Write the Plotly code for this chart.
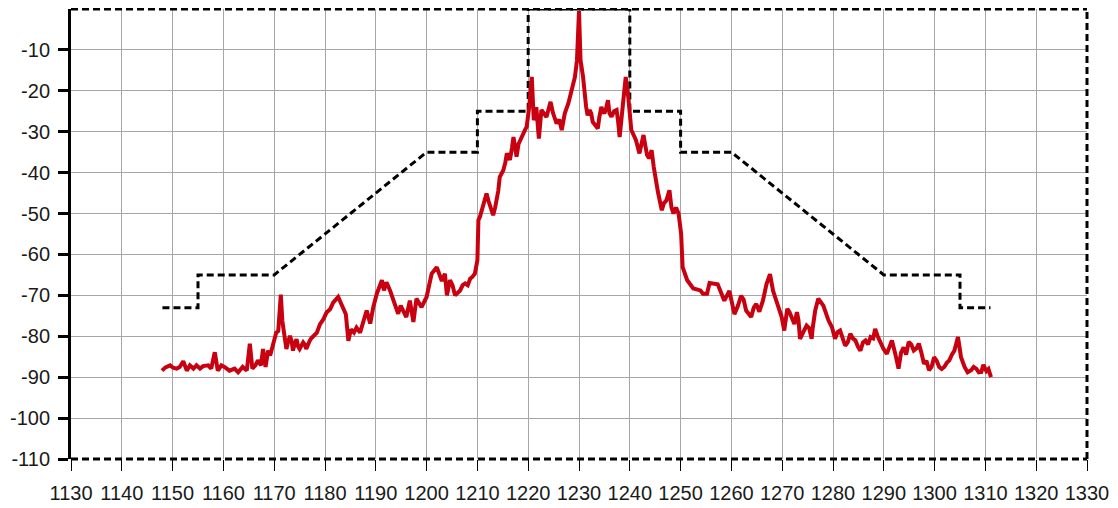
import plotly.graph_objects as go

# Spectrum mask (dashed black)
mask_freq = [1148, 1155, 1155, 1170, 1200, 1210, 1210, 1220, 1220, 1240, 1240, 1250, 1250, 1260, 1290, 1305, 1305, 1311]
mask_level = [-73, -73, -65, -65, -35, -35, -25, -25, 0, 0, -25, -25, -35, -35, -65, -65, -73, -73]

spec_freq = [
    1147.9, 1148.6, 1149.5, 1150.1, 1150.8, 1151.4, 1152.1, 1152.8, 1153.4, 1154.1,
    1154.7, 1155.4, 1156.0, 1157.0, 1157.6, 1158.3, 1158.9, 1159.6, 1160.2, 1161.2,
    1162.2, 1162.9, 1163.8, 1164.6, 1165.2, 1165.7, 1166.3, 1166.8, 1167.4, 1167.8,
    1168.3, 1168.8, 1169.2, 1169.7, 1170.4, 1170.8, 1171.3, 1171.6, 1172.0, 1172.4,
    1173.1, 1173.7, 1174.4, 1175.0, 1175.7, 1176.3, 1177.0, 1177.7, 1178.4, 1179.0,
    1179.7, 1180.3, 1181.0, 1181.6, 1182.6, 1183.1, 1183.6, 1184.1, 1184.6, 1185.1,
    1185.7, 1186.2, 1186.9, 1187.9, 1188.2, 1188.9, 1189.5, 1190.2, 1190.7, 1191.2,
    1191.6, 1192.1, 1192.8, 1193.3, 1193.8, 1194.4, 1194.9, 1195.4, 1196.0, 1196.7,
    1197.4, 1198.0, 1199.0, 1200.0, 1200.5, 1201.0, 1202.0, 1202.6, 1203.6, 1204.0,
    1204.6, 1205.6, 1206.6, 1207.6, 1208.6, 1209.5, 1210.0, 1210.2, 1210.5, 1211.2,
    1211.8, 1212.5, 1213.1, 1213.8, 1214.4, 1215.1, 1215.8, 1216.4, 1217.1, 1217.7,
    1218.4, 1219.0, 1219.7, 1220.2, 1220.7, 1221.1, 1221.6, 1222.1, 1222.6, 1223.6,
    1224.4, 1224.9, 1225.6, 1226.6, 1227.2, 1227.9, 1228.6, 1229.2, 1229.6, 1230.0,
    1230.3, 1230.8, 1231.4, 1232.1, 1232.7, 1233.7, 1234.4, 1235.0, 1235.7, 1236.4,
    1237.4, 1238.0, 1238.6, 1239.2, 1239.7, 1240.3, 1241.2, 1241.9, 1242.7, 1243.4,
    1244.3, 1245.0, 1245.6, 1246.3, 1247.2, 1247.8, 1248.6, 1249.6, 1250.1, 1250.4,
    1251.3, 1252.5, 1253.9, 1254.4, 1255.2, 1255.7, 1256.5, 1257.3, 1257.8, 1258.6,
    1259.6, 1260.6, 1261.9, 1262.9, 1263.9, 1264.9, 1266.2, 1266.9, 1267.6, 1268.2,
    1268.9, 1269.9, 1270.4, 1271.0, 1271.9, 1272.9, 1273.5, 1274.8, 1275.8, 1276.5,
    1277.1, 1278.1, 1279.1, 1279.8, 1280.4, 1281.4, 1282.4, 1283.4, 1284.4, 1285.4,
    1286.4, 1287.4, 1288.3, 1289.3, 1290.6, 1291.6, 1292.9, 1293.9, 1294.9, 1295.9,
    1296.9, 1297.9, 1298.9, 1299.9, 1300.9, 1301.9, 1302.9, 1303.9, 1304.6, 1305.2,
    1305.9, 1307.2, 1308.2, 1309.2, 1309.6, 1310.2, 1311.1,
]
spec_level = [
    -88.4, -87.6, -87.1, -87.7, -87.9, -87.5, -86.1, -88.4, -87.1, -87.9,
    -87.1, -87.9, -87.3, -87.1, -87.9, -83.9, -88.4, -87.1, -87.5, -88.4,
    -87.9, -88.8, -87.5, -88.4, -81.8, -87.9, -87.1, -85.9, -87.1, -83.1,
    -87.5, -83.5, -84.7, -82.7, -79.1, -78.7, -69.8, -76.2, -80.3, -83.1,
    -79.9, -83.5, -80.7, -83.1, -81.5, -83.1, -81.1, -79.9, -79.1, -77.1,
    -75.8, -74.2, -73.4, -71.8, -70.4, -71.8, -73.0, -74.6, -81.1, -78.3,
    -79.1, -77.9, -79.1, -75.4, -73.7, -76.9, -72.9, -69.6, -68.0, -66.3,
    -68.8, -66.8, -68.8, -70.4, -72.1, -74.5, -72.5, -73.7, -75.3, -71.3,
    -76.5, -70.8, -72.9, -70.4, -68.0, -64.7, -63.1, -65.5, -64.7, -70.0,
    -66.3, -70.0, -68.8, -67.1, -65.9, -64.7, -61.4, -51.6, -50.8, -47.6,
    -45.1, -48.4, -50.4, -46.7, -41.1, -39.4, -35.3, -36.9, -31.3, -36.1,
    -32.1, -30.4, -28.8, -23.9, -16.6, -27.2, -24.0, -31.7, -24.7, -26.4,
    -22.7, -25.5, -28.0, -29.6, -25.5, -23.1, -19.0, -16.6, -12.5, -0.5,
    -12.5, -16.6, -23.9, -24.7, -27.6, -29.2, -23.9, -25.5, -22.3, -26.3,
    -24.7, -31.3, -23.9, -16.6, -21.5, -29.6, -32.0, -35.3, -30.8, -35.7,
    -34.5, -40.2, -45.1, -49.2, -46.8, -44.3, -50.0, -50.0, -54.9, -63.1,
    -66.3, -68.3, -68.8, -69.6, -69.6, -67.0, -67.2, -67.3, -68.8, -71.3,
    -68.9, -74.6, -70.1, -73.7, -75.3, -72.1, -71.3, -67.3, -64.8, -68.9,
    -71.3, -75.3, -78.6, -73.3, -75.3, -74.1, -80.6, -77.4, -80.6, -73.7,
    -70.8, -72.5, -76.1, -77.8, -80.6, -78.6, -82.3, -79.4, -81.0, -83.5,
    -81.0, -80.2, -78.2, -81.4, -84.3, -81.0, -87.9, -82.7, -81.4, -83.5,
    -81.8, -86.7, -88.3, -85.1, -87.5, -87.5, -85.9, -83.5, -80.2, -85.1,
    -87.5, -88.3, -87.9, -88.7, -87.0, -88.5, -90.0,
]

# Extra fine-detail readings of the noisy trace
spec_freq_extra = [
    1172.7, 1173.4, 1174.0, 1174.7, 1176.0, 1176.6, 1177.3,
    1203.0, 1205.1, 1206.1, 1207.1, 1208.1, 1209.0,
    1212.2, 1212.8, 1213.5, 1214.1, 1214.8, 1215.5, 1216.1, 1216.8, 1217.4, 1218.1, 1218.7, 1219.4,
    1226.1, 1226.9, 1231.7, 1232.4, 1233.2, 1234.0, 1234.7, 1235.3, 1236.0, 1236.9, 1237.7,
    1241.5, 1242.3, 1243.0, 1243.8, 1244.7, 1245.3, 1246.0, 1246.7, 1248.2, 1249.1,
    1261.3, 1262.4, 1263.4, 1264.4, 1265.5,
    1269.4, 1270.7, 1271.4, 1272.4, 1273.2, 1274.2, 1275.3, 1276.0,
    1280.9, 1281.9, 1282.9, 1283.9, 1284.9, 1285.9, 1286.9, 1287.9, 1288.8, 1289.9,
    1291.1, 1292.3, 1293.4, 1294.4, 1295.4, 1296.4, 1297.4, 1298.4, 1299.4, 1300.4,
    1301.4, 1302.4, 1303.4,
    1306.5, 1307.7, 1308.7, 1310.6,
]
spec_level_extra = [
    -81.5, -81.0, -82.0, -82.5, -82.0, -82.0, -80.5,
    -66.5, -67.5, -69.5, -67.5, -67.5, -65.5,
    -47.0, -49.5, -48.5, -44.5, -40.0, -37.5, -36.0, -34.0, -33.5, -33.0, -31.0, -29.5,
    -27.0, -27.5, -26.0, -25.5, -28.5, -26.5, -25.0, -24.5, -25.5, -25.0, -27.5,
    -33.5, -33.0, -33.0, -36.5, -38.5, -43.0, -47.0, -47.5, -48.5, -48.5,
    -72.5, -71.0, -74.5, -73.0, -74.0,
    -73.0, -76.0, -74.0, -77.0, -76.0, -79.0, -78.0, -78.0,
    -79.0, -80.5, -81.5, -80.5, -82.5, -81.5, -82.0, -80.5, -80.0, -83.0,
    -82.5, -84.5, -84.0, -84.5, -82.0, -83.0, -84.0, -86.0, -87.5, -86.0,
    -88.0, -86.5, -84.5,
    -88.8, -87.5, -88.8, -88.0,
]

x_ticks = [1130, 1140, 1150, 1160, 1170, 1180, 1190, 1200, 1210, 1220, 1230,
           1240, 1250, 1260, 1270, 1280, 1290, 1300, 1310, 1320, 1330]
x_tick_text = [str(v) for v in x_ticks]
y_ticks = [-110, -100, -90, -80, -70, -60, -50, -40, -30, -20, -10]
y_tick_text = ["-110", "-100", "-90", "-80", "-70", "-60", "-50", "-40", "-30", "-20", "-10"]

pairs = sorted(zip(spec_freq + spec_freq_extra, spec_level + spec_level_extra))
trace_x = [p[0] for p in pairs]
trace_y = [p[1] for p in pairs]

fig = go.Figure()
fig.add_trace(go.Scatter(
    x=mask_freq, y=mask_level, mode="lines",
    line=dict(color="black", width=3, dash="7px,4px"),
    hoverinfo="skip", showlegend=False,
))
fig.add_trace(go.Scatter(
    x=trace_x, y=trace_y, mode="lines",
    line=dict(color="#C8000F", width=4),
    showlegend=False,
))

frame = dict(type="line", xref="paper", yref="paper",
             line=dict(color="black", width=3, dash="7px,4px"), layer="above")
fig.add_shape(x0=0, x1=1, y0=1, y1=1, **frame)
fig.add_shape(x0=1, x1=1, y0=0, y1=1, **frame)
fig.add_shape(x0=0, x1=1, y0=0, y1=0, **frame)

font = dict(family="Liberation Sans, Arial, sans-serif", size=20, color="#1a1a1a")

# page body has an 8px margin, so the figure is sized to fit the window
fig.update_layout(
    width=1110, height=500,
    margin=dict(l=63, r=31, t=1, b=49),
    paper_bgcolor="white", plot_bgcolor="white",
    font=font,
    xaxis=dict(
        range=[1130, 1330], tickmode="array", tickvals=x_ticks, ticktext=x_tick_text,
        showgrid=True, gridcolor="#A6A6A6", gridwidth=1,
        ticks="outside", ticklen=11, tickwidth=1, tickcolor="black",
        showline=False, zeroline=False, tickfont=font, ticklabelstandoff=5,
    ),
    yaxis=dict(
        range=[-110, 0], tickmode="array", tickvals=y_ticks, ticktext=y_tick_text,
        showgrid=True, gridcolor="#A6A6A6", gridwidth=1,
        ticks="outside", ticklen=10, tickwidth=3, tickcolor="black",
        showline=True, linewidth=3, linecolor="black", zeroline=False, tickfont=font,
        ticklabelstandoff=4,
    ),
)

fig.write_html("out.html")
